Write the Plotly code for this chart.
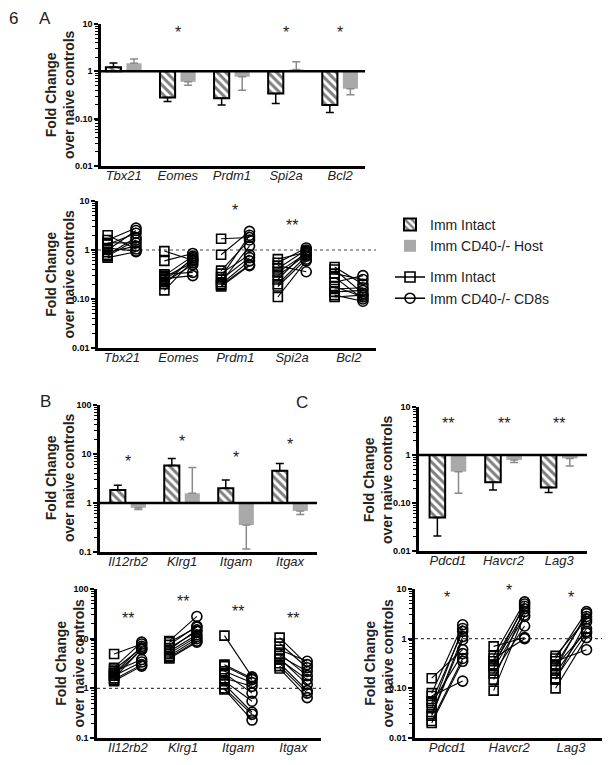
import math
import plotly.graph_objects as go

W, H = 613, 765
FONT = "Liberation Sans, Arial, sans-serif"

# ---------------- data ----------------
genes_A = ["Tbx21", "Eomes", "Prdm1", "Spi2a", "Bcl2"]
genes_B = ["Il12rb2", "Klrg1", "Itgam", "Itgax"]
genes_C = ["Pdcd1", "Havcr2", "Lag3"]

# bar means and error-bar ends (fold change over naive controls)
A_intact_mean = [1.22, 0.28, 0.27, 0.34, 0.195]
A_intact_err = [1.5, 0.23, 0.195, 0.21, 0.135]
A_host_mean = [1.48, 0.60, 0.77, 1.09, 0.43]
A_host_err = [1.83, 0.51, 0.40, 1.6, 0.32]

B_intact_mean = [1.84, 5.8, 2.0, 4.56]
B_intact_err = [2.3, 8.1, 2.95, 6.4]
B_host_mean = [0.80, 1.58, 0.355, 0.69]
B_host_err = [0.74, 5.3, 0.115, 0.58]

C_intact_mean = [0.05, 0.27, 0.21]
C_intact_err = [0.0205, 0.186, 0.165]
C_host_mean = [0.45, 0.79, 0.85]
C_host_err = [0.16, 0.70, 0.59]

# significance marks (text, height)
A_bar_stars = ["", "*", "", "*", "*"]
A_bar_star_y = [6.5, 6.5, 6.5, 6.5, 6.5]
B_bar_stars = ["*", "*", "*", "*"]
B_bar_star_y = [6.9, 17.6, 8.3, 15.8]
C_bar_stars = ["**", "**", "**"]
C_bar_star_y = [4.5, 4.5, 4.5]

A_pair_stars = ["", "", "*", "**", ""]
A_pair_star_y = [6.3, 6.3, 6.3, 3.2, 3.2]
B_pair_stars = ["**", "**", "**", "**"]
B_pair_star_y = [25.7, 55, 34.7, 25.7]
C_pair_stars = ["*", "*", "*"]
C_pair_star_y = [6.6, 9.5, 6.9]

# paired values: Imm Intact vs Imm CD40-/- CD8s (one list per gene)
A_pair_intact = [
    [2.0, 1.6, 1.4, 1.3, 1.1, 1.0, 0.9, 0.8, 0.75, 0.7],
    [0.95, 0.6, 0.32, 0.3, 0.28, 0.26, 0.24, 0.22, 0.2, 0.15],
    [1.7, 0.8, 0.38, 0.33, 0.28, 0.25, 0.22, 0.2, 0.19, 0.18],
    [0.65, 0.55, 0.48, 0.42, 0.35, 0.3, 0.25, 0.2, 0.18, 0.11],
    [0.45, 0.4, 0.33, 0.28, 0.22, 0.18, 0.16, 0.14, 0.12, 0.11],
]
A_pair_cd8 = [
    [1.05, 2.8, 1.4, 2.2, 0.95, 2.5, 1.2, 1.8, 1.6, 0.92],
    [0.62, 0.85, 0.35, 0.75, 0.55, 0.3, 0.65, 0.5, 0.7, 0.6],
    [1.8, 2.4, 1.6, 0.8, 2.0, 0.7, 1.2, 0.6, 0.5, 0.48],
    [0.9, 1.1, 0.36, 1.0, 0.85, 0.8, 0.95, 0.75, 0.65, 0.6],
    [0.2, 0.13, 0.25, 0.1, 0.3, 0.11, 0.17, 0.15, 0.09, 0.12],
]
B_pair_intact = [
    [4.9, 2.6, 2.4, 2.2, 2.0, 1.9, 1.8, 1.6, 1.5, 1.4],
    [9, 8.5, 7.5, 6.5, 6, 5.5, 5, 4.5, 4.2, 4],
    [11.5, 3.0, 2.8, 2.2, 2.0, 1.6, 1.4, 1.2, 1.0, 0.95],
    [10.5, 8, 6, 5, 4.5, 4, 3.8, 3.2, 2.8, 2.5],
]
B_pair_cd8 = [
    [7.8, 8.5, 6.5, 3.8, 7.0, 6.0, 3.4, 6.2, 3.0, 2.8],
    [28, 17, 18, 14, 15, 12, 11, 10, 9, 8.5],
    [1.7, 1.6, 1.5, 1.3, 0.8, 1.1, 0.55, 0.33, 0.3, 0.23],
    [3.0, 2.6, 3.5, 1.8, 2.2, 1.2, 1.5, 0.9, 0.8, 0.65],
]
C_pair_intact = [
    [0.16, 0.08, 0.07, 0.055, 0.05, 0.04, 0.03, 0.028, 0.022, 0.02],
    [0.7, 0.45, 0.4, 0.35, 0.3, 0.28, 0.25, 0.2, 0.15, 0.09],
    [0.45, 0.4, 0.35, 0.3, 0.28, 0.25, 0.2, 0.16, 0.15, 0.1],
]
C_pair_cd8 = [
    [0.6, 1.9, 0.14, 1.4, 0.5, 1.6, 1.1, 0.95, 0.4, 0.35],
    [1.05, 5.5, 1.0, 4.5, 3.5, 5.0, 2.8, 1.8, 4.0, 3.0],
    [2.5, 3.5, 0.6, 2.8, 1.4, 3.2, 1.6, 1.3, 2.2, 1.05],
]

ticks_lo = [0.01, 0.1, 1, 10]
ticks_lo_text = ["0.01", "0.10", "1", "10"]
ticks_hi = [0.1, 1, 10, 100]
ticks_hi_text = ["0.1", "1", "10", "100"]

# ---------------- layout helpers ----------------
def fx(px):
    return px / W


def fy(py):
    return 1 - py / H


panels = [
    dict(n=1, genes=genes_A, xd=(101, 365), yd=(24, 166), yr=(-2, 1), xr=(-0.42, 4.46), t=(ticks_lo, ticks_lo_text)),
    dict(n=2, genes=genes_A, xd=(98, 376), yd=(201, 348), yr=(-2, 1), xr=(-0.42, 4.48), t=(ticks_lo, ticks_lo_text)),
    dict(n=3, genes=genes_B, xd=(100, 317), yd=(405, 552), yr=(-1, 2), xr=(-0.52, 3.5), t=(ticks_hi, ticks_hi_text)),
    dict(n=4, genes=genes_B, xd=(97, 321), yd=(589, 738), yr=(-1, 2), xr=(-0.56, 3.5), t=(ticks_hi, ticks_hi_text)),
    dict(n=5, genes=genes_C, xd=(419, 587), yd=(407, 551), yr=(-2, 1), xr=(-0.52, 2.5), t=(ticks_lo, ticks_lo_text)),
    dict(n=6, genes=genes_C, xd=(415, 602), yd=(589, 738), yr=(-2, 1), xr=(-0.52, 2.5), t=(ticks_lo, ticks_lo_text)),
]

fig = go.Figure()
layout = dict(
    width=W, height=H, margin=dict(l=0, r=0, t=0, b=0, pad=0, autoexpand=False),
    paper_bgcolor="white", plot_bgcolor="white",
    font=dict(family=FONT, color="black"),
    showlegend=True,
    shapes=[], annotations=[],
)


def axname(prefix, n):
    return prefix if n == 1 else f"{prefix}{n}"


for p in panels:
    n = p["n"]
    lo, hi = p["yr"]
    minor_vals = [m * 10 ** e for e in range(lo, hi) for m in range(2, 10)]
    layout[axname("xaxis", n)] = dict(
        domain=[fx(p["xd"][0]), fx(p["xd"][1])], anchor=axname("y", n),
        range=list(p["xr"]), showgrid=False, zeroline=False,
        showline=True, linewidth=2.5, linecolor="black",
        tickmode="array", tickvals=list(range(len(p["genes"]))),
        ticktext=[f"<i>{g}</i>" for g in p["genes"]], ticks="",
        tickfont=dict(size=13, family=FONT, color="#222"), ticklabelstandoff=-4,
        automargin=False, fixedrange=True,
    )
    layout[axname("yaxis", n)] = dict(
        domain=[fy(p["yd"][1]), fy(p["yd"][0])], anchor=axname("x", n),
        type="log", range=[lo, hi], showgrid=False, zeroline=False,
        showline=True, linewidth=2.5, linecolor="black",
        tickmode="array", tickvals=p["t"][0], ticktext=[f"<b>{t}</b>" for t in p["t"][1]],
        ticks="outside", ticklen=4, tickwidth=2, tickcolor="black",
        tickfont=dict(size=9, family=FONT, color="black"), ticklabelstandoff=0,
        minor=dict(tickmode="array", tickvals=minor_vals, ticks="outside", ticklen=3,
                   tickwidth=1, tickcolor="black", showgrid=False),
        automargin=False, fixedrange=True,
    )


def hline(n, style):
    xr = "x domain" if n == 1 else f"x{n} domain"
    yr = axname("y", n)
    if style == "solid":
        line = dict(color="black", width=2.5)
        layer = "above"
    else:
        line = dict(color="#444", width=1.2, dash="dot")
        layer = "below"
    layout["shapes"].append(dict(type="line", xref=xr, yref=yr, x0=0, x1=1, y0=1, y1=1,
                                 line=line, layer=layer))


def add_bars(n, genes, mi, ei, mh, eh, legend):
    for means, errs, off, name, hatched in [
        (mi, ei, -0.19, "Imm Intact", True),
        (mh, eh, 0.19, "Imm CD40-/- Host", False),
    ]:
        up = [(e - m) if m >= 1 else 0 for m, e in zip(means, errs)]
        dn = [(m - e) if m < 1 else 0 for m, e in zip(means, errs)]
        if hatched:
            marker = dict(color="white", line=dict(color="black", width=2),
                          pattern=dict(shape="\\", fgcolor="black", bgcolor="white",
                                       size=6, solidity=0.5))
            ecol = "black"
        else:
            marker = dict(color="#a9a9a9", line=dict(width=0))
            ecol = "#8a8a8a"
        fig.add_trace(go.Bar(
            x=[i + off for i in range(len(genes))],
            y=[m - 1 for m in means], base=[1] * len(means), width=0.28,
            marker=marker, name=name, legendgroup="bars", showlegend=legend,
            error_y=dict(type="data", symmetric=False, array=up, arrayminus=dn,
                         color=ecol, thickness=1.5, width=4),
            xaxis=axname("x", n), yaxis=axname("y", n),
        ))
    hline(n, "solid")


def add_pairs(n, genes, intact, cd8):
    lx, ly, sx, sy, cx, cy = [], [], [], [], [], []
    for i in range(len(genes)):
        for a, b in zip(intact[i], cd8[i]):
            lx += [i - 0.25, i + 0.25, None]
            ly += [a, b, None]
            sx.append(i - 0.25); sy.append(a)
            cx.append(i + 0.25); cy.append(b)
    hline(n, "dot")
    fig.add_trace(go.Scatter(x=lx, y=ly, mode="lines", line=dict(color="black", width=1.1),
                             showlegend=False, xaxis=axname("x", n), yaxis=axname("y", n)))
    fig.add_trace(go.Scatter(x=sx, y=sy, mode="markers",
                             marker=dict(symbol="square-open", size=9, color="black",
                                         line=dict(width=1.6, color="black")),
                             showlegend=False, xaxis=axname("x", n), yaxis=axname("y", n)))
    fig.add_trace(go.Scatter(x=cx, y=cy, mode="markers",
                             marker=dict(symbol="circle-open", size=10, color="black",
                                         line=dict(width=1.6, color="black")),
                             showlegend=False, xaxis=axname("x", n), yaxis=axname("y", n)))


def add_stars(n, texts, ys):
    for i, (t, y) in enumerate(zip(texts, ys)):
        if t:
            layout["annotations"].append(dict(
                x=i, y=math.log10(y), xref=axname("x", n), yref=axname("y", n),
                text=t, showarrow=False, font=dict(size=16, family=FONT, color="#222"),
                xanchor="center", yanchor="middle"))


add_bars(1, genes_A, A_intact_mean, A_intact_err, A_host_mean, A_host_err, True)
add_pairs(2, genes_A, A_pair_intact, A_pair_cd8)
add_bars(3, genes_B, B_intact_mean, B_intact_err, B_host_mean, B_host_err, False)
add_pairs(4, genes_B, B_pair_intact, B_pair_cd8)
add_bars(5, genes_C, C_intact_mean, C_intact_err, C_host_mean, C_host_err, False)
add_pairs(6, genes_C, C_pair_intact, C_pair_cd8)

add_stars(1, A_bar_stars, A_bar_star_y)
add_stars(2, A_pair_stars, A_pair_star_y)
add_stars(3, B_bar_stars, B_bar_star_y)
add_stars(4, B_pair_stars, B_pair_star_y)
add_stars(5, C_bar_stars, C_bar_star_y)
add_stars(6, C_pair_stars, C_pair_star_y)

# legend entries for the paired plots
for name, sym in [("Imm Intact", "square-open"), ("Imm CD40-/- CD8s", "circle-open")]:
    fig.add_trace(go.Scatter(x=[None], y=[None], mode="lines+markers", name=name,
                             legendgroup="pairs",
                             line=dict(color="black", width=1.5),
                             marker=dict(symbol=sym, size=10, color="black",
                                         line=dict(width=1.6, color="black")),
                             xaxis="x2", yaxis="y2"))

layout["legend"] = dict(x=fx(390), y=fy(209), xanchor="left", yanchor="top",
                        traceorder="grouped", tracegroupgap=10,
                        font=dict(size=14, family=FONT, color="#222"),
                        bgcolor="rgba(0,0,0,0)", itemwidth=30)

# y-axis titles
ytitle = "<b>Fold Change<br>over naive controls</b>"
for cx, cy in [(60, 95), (59.5, 274), (60, 478), (69.5, 663), (378, 479), (378.5, 663)]:
    layout["annotations"].append(dict(
        x=fx(cx), y=fy(cy), xref="paper", yref="paper", text=ytitle, textangle=-90,
        showarrow=False, font=dict(size=14, family=FONT, color="#222"),
        xanchor="center", yanchor="middle"))

# panel letters
for t, cx, cy in [("6", 13, 18), ("A", 45, 18), ("B", 45, 401), ("C", 302, 402)]:
    layout["annotations"].append(dict(
        x=fx(cx), y=fy(cy), xref="paper", yref="paper", text=t, showarrow=False,
        font=dict(size=17, family=FONT, color="#222"), xanchor="center", yanchor="middle"))

fig.update_layout(layout)
fig.write_html("out.html", config={"displayModeBar": False},
               post_script="document.body.style.margin='0px';document.body.style.overflow='hidden';")
